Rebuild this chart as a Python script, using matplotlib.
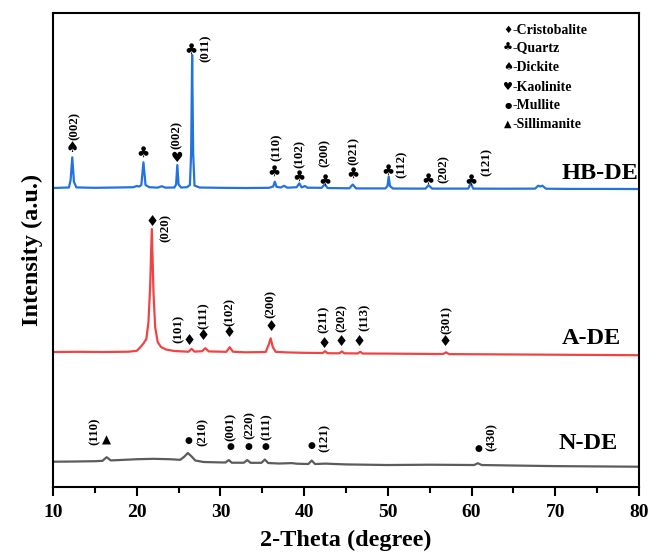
import matplotlib
matplotlib.use("Agg")
import matplotlib.pyplot as plt

plt.rcParams['font.family'] = ['Liberation Serif', 'DejaVu Sans']
plt.rcParams['font.weight'] = 'bold'

# ---- XRD patterns (2-theta in degrees, relative intensity in a.u.) ----
two_theta_hb = [10.0, 11.0, 11.9, 12.1, 12.3, 12.5, 12.8, 15.0, 17.5, 19.6, 20.0, 20.3,
                20.55, 20.8, 21.05, 21.5, 22.5, 23.0, 23.4, 24.5, 24.7, 24.85, 25.0, 25.3,
                26.0, 26.35, 26.5, 26.62, 26.74, 26.9, 27.5, 30.0, 33.0, 35.8, 36.3, 36.5,
                36.7, 37.2, 37.6, 38.0, 39.1, 39.42, 39.7, 40.1, 40.4, 42.1, 42.45, 42.8,
                45.4, 45.8, 46.2, 49.7, 49.95, 50.1, 50.25, 50.6, 54.5, 54.85, 55.3, 59.6,
                59.9, 60.2, 64.0, 67.6, 67.95, 68.2, 68.45, 68.9, 72.0, 76.0, 80.0]
intensity_hb = [0.0, 0.3, 0.5, 8.0, 30.7, 6.0, 0.6, 0.2, 0.5, 0.8, 2.0, 1.5,
                3.0, 25.7, 3.0, 0.8, 0.4, 1.8, 0.4, 0.5, 3.5, 23.0, 3.5, 0.5,
                0.8, 3.0, 35.0, 133.0, 35.0, 2.5, 0.5, 0.2, 0.0, 0.2, 1.5, 6.3,
                1.2, 0.5, 2.2, 0.3, 0.8, 4.7, 0.6, 2.0, 0.3, 0.2, 3.7, 0.0,
                -0.3, 3.5, -0.4, -0.4, 2.0, 11.3, 2.0, -0.5, -0.6, 2.8, -0.6, -0.6,
                4.7, -0.6, -0.7, -0.6, 2.3, 1.5, 2.3, -0.7, -0.9, -0.9, -1.0]

two_theta_a = [10.0, 13.0, 16.0, 19.0, 20.0, 20.4, 20.8, 21.15, 21.4, 21.6, 21.8, 22.0,
               22.2, 22.5, 22.9, 23.5, 24.5, 26.2, 26.55, 26.9, 27.8, 28.2, 28.6, 30.7,
               31.1, 31.5, 33.0, 35.4, 35.75, 36.0, 36.25, 36.6, 38.0, 40.0, 42.2, 42.5,
               42.8, 44.2, 44.5, 44.8, 46.4, 46.7, 47.0, 50.0, 53.0, 56.6, 56.95, 57.3,
               62.0, 68.0, 74.0, 80.0]
intensity_a = [0.0, 0.2, 0.0, 0.3, 1.2, 4.5, 8.5, 13.0, 30.0, 65.0, 123.0, 60.0,
               25.0, 10.0, 5.0, 2.5, 1.0, 0.3, 3.2, 0.4, 0.8, 3.8, 0.6, 0.2,
               4.8, 0.3, -0.3, 0.0, 7.0, 13.7, 5.0, 0.2, -0.4, -0.8, -1.0, 0.8,
               -1.2, -1.3, 0.6, -1.3, -1.4, 0.2, -1.5, -1.6, -1.8, -2.0, -0.3, -2.1,
               -2.3, -2.6, -2.9, -3.2]

two_theta_n = [10.0, 12.5, 15.0, 15.9, 16.4, 16.9, 18.0, 20.0, 22.0, 24.0, 25.2, 25.7,
               26.1, 26.5, 27.0, 28.0, 30.6, 31.0, 31.35, 32.8, 33.2, 33.6, 34.9, 35.3,
               35.7, 37.0, 38.5, 39.2, 40.5, 40.9, 41.3, 42.5, 45.0, 50.0, 55.0, 60.3,
               60.75, 61.2, 65.0, 70.0, 75.0, 80.0]
intensity_n = [5.3, 5.5, 5.8, 6.2, 9.8, 6.6, 7.0, 7.8, 8.2, 7.8, 7.2, 10.5,
               14.0, 11.0, 6.5, 5.0, 4.5, 7.0, 4.3, 4.3, 7.0, 4.2, 4.2, 7.5,
               4.0, 3.5, 3.9, 3.3, 3.0, 6.5, 3.0, 3.4, 2.6, 2.0, 2.3, 2.0,
               3.8, 2.0, 1.5, 0.9, 0.6, 0.3]

sample_names = ['HB-DE', 'A-DE', 'N-DE']
legend_symbols = ['\u2666', '\u2663', '\u2660', '\u2665', '\u25cf', '\u25b2']
legend_phases = ['-Cristobalite', '-Quartz', '-Dickite', '-Kaolinite', '-Mullite', '-Sillimanite']

# peak identification: (phase symbol, symbol x, symbol y, hkl, label x, label y)
peak_marks_hb = [
    ('\u2660', 12.31, 339.3, '(002)', 12.63, 361.0),
    ('\u2663', 20.72, 334.3, '', 0, 0),
    ('\u2665', 24.78, 328.7, '(002)', 24.81, 352.0),
    ('\u2663', 26.49, 437.7, '(011)', 28.28, 438.7),
    ('\u2663', 36.44, 315.3, '(110)', 36.72, 339.5),
    ('\u2663', 39.42, 310.3, '(102)', 39.51, 333.5),
    ('\u2663', 42.49, 307.0, '(200)', 42.49, 334.5),
    ('\u2663', 45.80, 313.7, '(021)', 45.87, 336.0),
    ('\u2663', 50.06, 317.0, '(112)', 51.65, 323.0),
    ('\u2663', 54.84, 308.0, '(202)', 56.63, 318.5),
    ('\u2663', 59.90, 307.0, '(121)', 61.81, 325.3),
]
peak_marks_a = [
    ('\u2666', 21.79, 265.3, '(020)', 23.50, 259.5),
    ('\u2666', 26.28, 147.0, '(101)', 24.97, 158.0),
    ('\u2666', 27.96, 151.3, '(111)', 28.04, 171.5),
    ('\u2666', 31.03, 154.3, '(102)', 31.06, 175.0),
    ('\u2666', 36.01, 160.3, '(200)', 36.01, 183.0),
    ('\u2666', 42.37, 143.7, '(211)', 42.29, 168.0),
    ('\u2666', 44.36, 145.3, '(202)', 44.48, 169.5),
    ('\u2666', 46.59, 145.3, '(113)', 47.27, 169.5),
    ('\u2666', 56.83, 145.3, '(301)', 57.03, 167.0),
]
peak_marks_n = [
    ('\u25b2', 16.41, 47.0, '(110)', 14.93, 55.5),
    ('\u25cf', 26.16, 46.3, '(210)', 27.84, 55.5),
    ('\u25cf', 31.14, 40.3, '(001)', 31.26, 60.5),
    ('\u25cf', 33.33, 41.0, '(220)', 33.45, 62.0),
    ('\u25cf', 35.33, 41.0, '(111)', 35.53, 60.5),
    ('\u25cf', 40.82, 42.0, '(121)', 42.49, 49.5),
    ('\u25cf', 60.81, 38.7, '(430)', 62.40, 50.5),
]

# ---- layout / style ----
offsets = [299.0, 135.0, 20.0]
colors = ['#2272e0', '#f04444', '#5c5c5c']

fig = plt.figure(figsize=(6.49, 5.54), dpi=100)
ax = fig.add_axes([0.0817, 0.1209, 0.9029, 0.8556])

series = [(two_theta_hb, intensity_hb), (two_theta_a, intensity_a), (two_theta_n, intensity_n)]
for (tt, inten), off, col in zip(series, offsets, colors):
    ax.plot(tt, [v + off for v in inten], color=col, lw=1.6, solid_joinstyle='round')

sym_family = ['DejaVu Sans']
sym_size = {'\u2660': 10.5, '\u2663': 10.5, '\u2665': 10, '\u2666': 10.5, '\u25cf': 6.5, '\u25b2': 8.5}
for marks in (peak_marks_hb, peak_marks_a, peak_marks_n):
    for sym, sx, sy, hkl, lx, ly in marks:
        ax.text(sx, sy, sym, ha='center', va='center', fontsize=sym_size[sym],
                family=sym_family, color='black')
        if hkl:
            ax.text(lx, ly, hkl, ha='center', va='center', rotation=90,
                    fontsize=9.3, fontweight='bold')

name_pos = [(79.9, 314.0), (77.9, 149.0), (77.5, 44.0)]
for name, (nx, ny) in zip(sample_names, name_pos):
    ax.text(nx, ny, name, ha='right', va='center', fontsize=17.5, fontweight='bold')

legend_y = [457, 439, 420, 400, 382, 363]
legend_sym_size = [7.5, 8, 8, 8, 6, 7]
for sym, phase, ly, ss in zip(legend_symbols, legend_phases, legend_y, legend_sym_size):
    ax.text(64.35, ly, sym, ha='center', va='center', fontsize=ss, family=sym_family)
    ax.text(64.85, ly, phase, ha='left', va='center', fontsize=10, fontweight='bold')

ax.set_xlim(10, 80)
ax.set_ylim(0, 474)
ax.set_yticks([])
ax.set_xticks(range(10, 81, 10))
ax.set_xticks(range(15, 80, 10), minor=True)
ax.tick_params(axis='x', which='major', direction='out', length=6.5, width=1.5,
               labelsize=14, pad=6)
ax.tick_params(axis='x', which='minor', direction='out', length=4, width=1.5)
for lab in ax.get_xticklabels():
    lab.set_fontweight('bold')
for sp in ax.spines.values():
    sp.set_linewidth(1.5)

ax.set_xlabel('2-Theta (degree)', fontsize=17.5, fontweight='bold', labelpad=6)
ax.set_ylabel('Intensity (a.u.)', fontsize=17.5, fontweight='bold', labelpad=7)

fig.savefig('out.png', dpi=100)
